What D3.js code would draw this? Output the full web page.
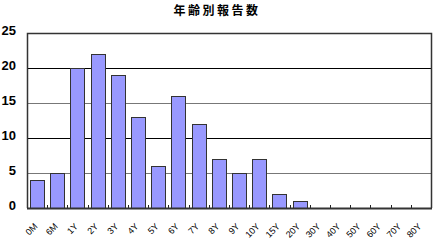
<!DOCTYPE html>
<html><head><meta charset="utf-8">
<script src="https://cdn.jsdelivr.net/npm/d3@7"></script>
<style>body{margin:0;background:#fff}svg{display:block}</style>
</head><body>
<svg id="c" width="433" height="241"></svg>
<script>
const title = "年齢別報告数";
const categories = ["0M","6M","1Y","2Y","3Y","4Y","5Y","6Y","7Y","8Y","9Y","10Y","15Y","20Y","30Y","40Y","50Y","60Y","70Y","80Y"];
const values = [4,5,20,22,19,13,6,16,12,7,5,7,2,1,0,0,0,0,0,0];
const yTicks = [0,5,10,15,20,25];

const svg = d3.select("#c");
const L = 27, R = 431, T = 33, B = 208;
const x = d3.scaleBand().domain(categories).range([L, R]).paddingInner(0.3).paddingOuter(0.15);
const y = d3.scaleLinear().domain([0, 25]).range([B, T]);

svg.append("text").attr("x", 217).attr("y", 15).attr("text-anchor", "middle")
  .attr("font-family", "'Noto Sans CJK JP'").attr("font-weight", "bold").attr("font-size", 12)
  .attr("letter-spacing", 2.5).attr("fill", "#000").text(title);

// gridlines
svg.append("g").selectAll("line").data(yTicks.filter(d => d > 0 && d < 25)).join("line")
  .attr("x1", L).attr("x2", R).attr("y1", d => y(d) + 0.5).attr("y2", d => y(d) + 0.5)
  .attr("stroke", d => d % 10 === 0 ? "#000" : "#777").attr("stroke-width", 1);

// bars
svg.append("g").selectAll("rect").data(values.map((v, i) => ({c: categories[i], v}))).join("rect")
  .attr("x", d => Math.round(x(d.c)) + 0.5).attr("width", Math.round(x.bandwidth()))
  .attr("y", d => Math.round(y(d.v)) + 0.5).attr("height", d => B - Math.round(y(d.v)))
  .attr("fill", d => d.v > 0 ? "#9999ff" : "none").attr("stroke", d => d.v > 0 ? "#333" : "none").attr("stroke-width", 1);

// frame
svg.append("path").attr("d", `M${L+0.5},${B}V${T+0.5}H${R+0.5}V${B}`)
  .attr("fill", "none").attr("stroke", "#333").attr("stroke-width", 1.5);

// x axis
const xStep = x.step();
const tickXs = categories.map((c, i) => x(c) - x.paddingInner() * xStep / 2);
svg.append("g").selectAll("line").data(tickXs.slice(1)).join("line")
  .attr("x1", d => Math.round(d) + 0.5).attr("x2", d => Math.round(d) + 0.5)
  .attr("y1", B).attr("y2", B - 3).attr("stroke", "#222");
svg.append("line").attr("x1", L).attr("x2", R + 1).attr("y1", B + 0.5).attr("y2", B + 0.5)
  .attr("stroke", "#333").attr("stroke-width", 2);

svg.append("g").selectAll("text").data(categories).join("text")
  .attr("transform", d => `translate(${x(d) + x.bandwidth() / 2 + 1},${B + 19}) rotate(-45)`)
  .attr("text-anchor", "end").attr("font-family", "'Liberation Sans', Arial").attr("font-size", 9)
  .attr("fill", "#000").text(d => d);

// y axis labels
svg.append("g").selectAll("text").data(yTicks).join("text")
  .attr("x", 16).attr("y", d => y(d) + 2).attr("text-anchor", "end")
  .attr("font-family", "'Liberation Sans', Arial").attr("font-weight", "bold").attr("font-size", 13)
  .attr("fill", "#000").text(d => d);
</script>
</body></html>
